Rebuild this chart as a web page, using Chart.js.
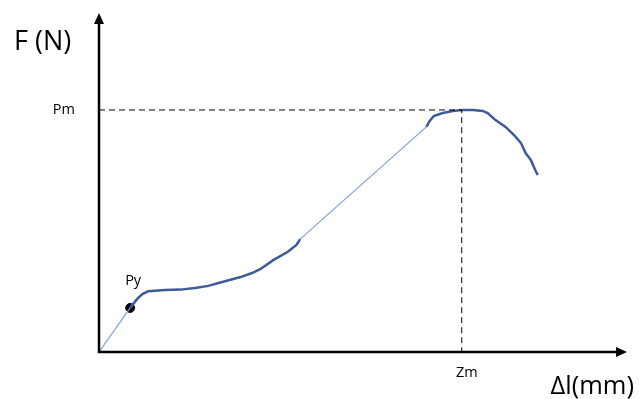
<!DOCTYPE html>
<html>
<head>
<meta charset="utf-8">
<style>
  html, body { margin: 0; padding: 0; background: #fff; }
  #wrap { width: 639px; height: 399px; }
</style>
<script src="https://cdn.jsdelivr.net/npm/chart.js@4.4.1/dist/chart.umd.min.js"></script>
</head>
<body>
<div id="wrap"><canvas id="myChart" width="639" height="399"></canvas></div>
<script>
// values (x: elongation, y: force, arbitrary units 0..100)
const elasticX = [0, 5.9];
const elasticY = [0, 13.0];

const yieldX = [5.9, 6.5, 7.2, 8.2, 9.3, 10.6, 12.5, 15.4, 18.2, 20.7, 23.0, 26.8, 29.0, 30.6, 33.0, 35.7, 37.4, 38.1];
const yieldY = [13.0, 14.2, 15.6, 17.1, 17.9, 18.1, 18.3, 18.4, 18.9, 19.5, 20.5, 22.1, 23.3, 24.5, 27.1, 29.5, 31.6, 33.3];

const linearX = [38.1, 62.0];
const linearY = [33.3, 66.4];

const peakX = [62.0, 62.6, 63.4, 65.1, 67.0, 68.7, 70.8, 72.7, 73.6, 75.1, 77.0, 78.6, 79.9, 80.8, 81.8, 82.7, 83.1];
const peakY = [66.4, 68.1, 69.6, 70.5, 71.1, 71.4, 71.4, 71.1, 70.5, 68.4, 66.4, 64.0, 61.7, 58.7, 56.6, 53.4, 52.2];

const pyPoint = { x: 5.9, y: 13.0 };
const pmValue = 71.4;
const zmValue = 68.7;

const yTickLabels = ['Pm'];
const xTickLabels = ['Zm'];
const yAxisTitle = 'F (N)';
const xAxisTitle = 'Δl(mm)';
const pointLabel = 'Py';

function toPoints(xs, ys) {
    return xs.map((x, i) => ({ x: x, y: ys[i] }));
}

const thickColor = '#3e5a99';
const thinColor = '#7f9fd8';
const fontFamily = '"Open Sans", "Noto Sans", sans-serif';

// axes with arrows, labels
const annotations = {
    id: 'annotations',
    afterDatasetsDraw(chart) {
        const { ctx, chartArea, scales } = chart;
        const left = chartArea.left;
        const bottom = chartArea.bottom;
        const top = chartArea.top;
        const right = chartArea.right;

        ctx.save();
        ctx.strokeStyle = '#000';
        ctx.fillStyle = '#000';
        ctx.lineWidth = 2.5;

        // y axis
        ctx.beginPath();
        ctx.moveTo(left, bottom + 1);
        ctx.lineTo(left, top + 8);
        ctx.stroke();
        ctx.beginPath();
        ctx.moveTo(left, top);
        ctx.lineTo(left - 5, top + 11);
        ctx.lineTo(left + 5, top + 11);
        ctx.closePath();
        ctx.fill();

        // x axis
        ctx.beginPath();
        ctx.moveTo(left - 1, bottom);
        ctx.lineTo(right - 8, bottom);
        ctx.stroke();
        ctx.beginPath();
        ctx.moveTo(right, bottom);
        ctx.lineTo(right - 11, bottom - 5);
        ctx.lineTo(right - 11, bottom + 5);
        ctx.closePath();
        ctx.fill();

        // tick labels
        ctx.font = '14.5px ' + fontFamily;
        ctx.textBaseline = 'middle';
        ctx.textAlign = 'right';
        ctx.fillText(yTickLabels[0], left - 24, scales.y.getPixelForValue(pmValue));
        ctx.textAlign = 'center';
        ctx.fillText(xTickLabels[0], scales.x.getPixelForValue(zmValue) + 5, bottom + 21);

        // Py label
        ctx.textAlign = 'left';
        ctx.fillText(pointLabel, scales.x.getPixelForValue(pyPoint.x) - 5, scales.y.getPixelForValue(pyPoint.y) - 27);

        // axis titles
        ctx.font = '27px ' + fontFamily;
        ctx.textAlign = 'left';
        ctx.fillText(yAxisTitle, 14, 42);
        ctx.font = '25.5px ' + fontFamily;
        ctx.textAlign = 'right';
        ctx.fillText(xAxisTitle, 634, 387);
        ctx.restore();
    }
};

const ctx = document.getElementById('myChart');
// eslint-disable-next-line no-unused-vars
const myChart = new Chart(ctx, {
    type: 'scatter',
    data: {
        datasets: [
            {
                data: [{ x: 0, y: pmValue }, { x: zmValue, y: pmValue }, { x: zmValue, y: 0 }],
                showLine: true,
                borderColor: '#000',
                borderWidth: 1,
                borderDash: [6, 4],
                pointRadius: 0
            },
            {
                data: toPoints(elasticX, elasticY),
                showLine: true,
                borderColor: thinColor,
                borderWidth: 1.2,
                pointRadius: 0
            },
            {
                data: toPoints(linearX, linearY),
                showLine: true,
                borderColor: thinColor,
                borderWidth: 1.2,
                pointRadius: 0
            },
            {
                data: toPoints(yieldX, yieldY),
                showLine: true,
                borderColor: thickColor,
                borderWidth: 2.5,
                pointRadius: 0
            },
            {
                data: toPoints(peakX, peakY),
                showLine: true,
                borderColor: thickColor,
                borderWidth: 2.5,
                pointRadius: 0
            },
            {
                data: [pyPoint],
                pointRadius: 4.5,
                pointBackgroundColor: '#000',
                pointBorderColor: '#000',
                showLine: false
            }
        ]
    },
    options: {
        responsive: false,
        animation: false,
        layout: {
            padding: { left: 99, right: 12, top: 13, bottom: 47 }
        },
        scales: {
            x: { type: 'linear', min: 0, max: 100, display: false },
            y: { type: 'linear', min: 0, max: 100, display: false }
        },
        plugins: {
            legend: { display: false },
            tooltip: { enabled: false }
        }
    },
    plugins: [annotations]
});
</script>
</body>
</html>
